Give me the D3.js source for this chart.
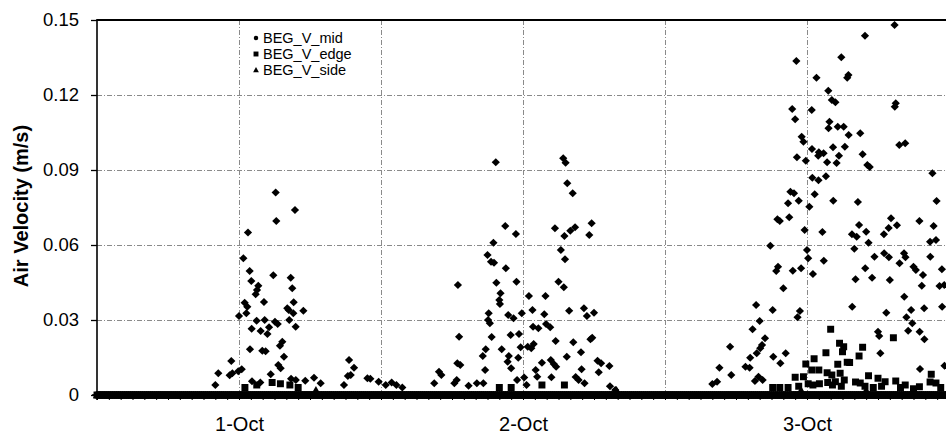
<!DOCTYPE html>
<html>
<head>
<meta charset="utf-8">
<script src="https://cdn.jsdelivr.net/npm/d3@7"></script>
<style>
  body { margin: 0; background: #fff; }
  svg { display: block; font-family: Arial, "Liberation Sans", sans-serif; }
</style>
</head>
<body>
<svg width="946" height="435"></svg>
<script>
// series / axis data
var seriesNames = ["BEG_V_mid", "BEG_V_edge", "BEG_V_side"];
var yTicks = [0, 0.03, 0.06, 0.09, 0.12, 0.15];
var dayLabels = ["1-Oct", "2-Oct", "3-Oct"];

// logger: one reading every 10 min, readings not listed below were 0 m/s
var logStart = new Date(2003, 8, 30, 12), logEnd = new Date(2003, 9, 3, 12), logStepMin = 10;
var oct1 = new Date(2003, 9, 1);

// readings above zero: [hours after 1-Oct 00:00, air velocity m/s]
var midReadings = [
  [-2.0,0.004],[-1.75,0.0087],[-0.79,0.0079],[-0.65,0.0136],[-0.56,0.0087],[-0.06,0.0095],[0,0.0316],[0.23,0.0103],
  [0.37,0.0547],[0.48,0.0369],[0.62,0.0327],[0.7,0.0353],[0.76,0.065],[0.9,0.0496],[0.93,0.0183],[1.04,0.0456],
  [1.07,0.0265],[1.1,0.0055],[1.41,0.0403],[1.49,0.0297],[1.52,0.042],[1.63,0.0437],[1.8,0.005],[1.83,0.0256],
  [1.97,0.0177],[2.11,0.0372],[2.17,0.03],[2.25,0.0175],[2.4,0.0244],[2.54,0.0271],[2.68,0.0083],[2.9,0.0479],
  [3.04,0.0293],[3.1,0.081],[3.15,0.0696],[3.27,0.0284],[3.32,0.012],[3.46,0.0197],[3.52,0.0107],[3.66,0.0213],
  [3.8,0.0153],[4.08,0.0347],[4.2,0.034],[4.25,0.03],[4.37,0.0469],[4.4,0.0065],[4.5,0.0427],[4.59,0.0327],
  [4.62,0.0371],[4.73,0.074],[4.79,0.0273],[4.8,0.006],[5.44,0.0337],[5.6,0.0057],[6.34,0.0069],[6.9,0.0047],
  [8.87,0.004],[9.2,0.0076],[9.3,0.014],[9.44,0.008],[9.72,0.0109],[10.85,0.0067],[11.1,0.0065],[11.8,0.0053],
  [12.4,0.004],[12.9,0.005],[13.3,0.004],[13.8,0.003],
  [16.5,0.0047],[16.9,0.0093],[17.1,0.008],[18.2,0.0047],[18.4,0.006],[18.45,0.0127],[18.5,0.044],[18.6,0.0233],
  [18.7,0.012],[19.4,0.0037],[20.1,0.0047],[20.6,0.0156],[20.65,0.0047],[20.8,0.01],[20.85,0.0183],[21.0,0.056],
  [21.05,0.03],[21.1,0.0327],[21.2,0.0287],[21.3,0.0533],[21.35,0.0232],[21.5,0.0609],[21.55,0.0529],[21.7,0.0931],
  [21.75,0.0449],[22.0,0.038],[22.05,0.0364],[22.1,0.0407],[22.2,0.0183],[22.5,0.0676],[22.55,0.0507],[22.7,0.0133],
  [22.75,0.032],[22.8,0.0156],[22.96,0.024],[23.0,0.0107],[23.2,0.0307],[23.4,0.0644],[23.45,0.0453],[23.5,0.006],
  [23.6,0.0149],[23.66,0.0244],[23.8,0.0191],[23.9,0.0327],[24.1,0.007],[24.3,0.004],[24.4,0.0193],[24.5,0.0396],
  [24.7,0.0187],[24.8,0.034],[24.85,0.0273],[24.9,0.0204],[25.07,0.01],[25.2,0.0073],[25.3,0.0267],[25.6,0.0129],
  [25.8,0.0323],[25.9,0.0396],[25.95,0.0284],[26.3,0.0271],[26.35,0.014],[26.4,0.0071],[26.6,0.0124],[26.7,0.0667],
  [26.76,0.0216],[26.8,0.0113],[27.0,0.0453],[27.2,0.058],[27.4,0.0947],[27.45,0.0431],[27.5,0.0636],[27.55,0.0543],
  [27.6,0.0929],[27.7,0.0153],[27.74,0.0847],[27.9,0.0337],[28.0,0.0657],[28.2,0.0807],[28.25,0.0211],[28.4,0.0671],
  [28.45,0.0072],[28.7,0.006],[28.9,0.0171],[28.95,0.0103],[29.15,0.0347],[29.2,0.0047],[29.4,0.0316],[29.6,0.064],
  [29.7,0.0223],[29.8,0.0687],[29.85,0.0229],[30.0,0.0329],[30.3,0.0137],[30.4,0.0091],[30.6,0.0127],[31.3,0.0116],
  [31.35,0.0035],[31.8,0.002],
  [40.0,0.0044],[40.4,0.0053],[40.6,0.0109],[41.5,0.0193],[41.6,0.008],[42.8,0.0113],[43.15,0.0109],[43.2,0.0149],
  [43.4,0.0263],[43.6,0.0056],[43.7,0.036],[43.75,0.0167],[43.9,0.0073],[44.0,0.0296],[44.05,0.0187],[44.2,0.02],
  [44.25,0.006],[44.45,0.0227],[44.9,0.0597],[45.1,0.034],[45.15,0.0153],[45.4,0.0496],[45.5,0.0703],[45.55,0.0513],
  [45.7,0.0696],[45.75,0.0127],[46.0,0.0427],[46.2,0.0167],[46.4,0.0767],[46.5,0.0711],[46.6,0.0813],[46.75,0.1144],
  [46.8,0.0497],[46.9,0.0807],[47.0,0.1103],[47.1,0.1336],[47.15,0.0951],[47.2,0.0311],[47.3,0.0777],[47.4,0.0336],
  [47.5,0.0507],[47.55,0.1033],[47.7,0.1013],[47.8,0.066],[47.9,0.0937],[48.0,0.058],[48.1,0.0547],[48.2,0.0753],
  [48.4,0.114],[48.42,0.0984],[48.45,0.0869],[48.5,0.0484],[48.65,0.0803],[48.8,0.1269],[48.95,0.0957],[48.97,0.0859],
  [49.0,0.0971],[49.3,0.0652],[49.4,0.0967],[49.42,0.0537],[49.6,0.0875],[49.7,0.0931],[49.8,0.1217],[49.82,0.1067],
  [49.9,0.1093],[50.1,0.118],[50.2,0.0991],[50.22,0.0777],[50.4,0.1171],[50.5,0.0928],[50.6,0.1073],[50.7,0.0957],
  [50.9,0.1351],[51.1,0.1073],[51.2,0.0993],[51.4,0.1269],[51.5,0.128],[51.52,0.104],[51.8,0.0643],[51.82,0.0353],
  [52.0,0.0585],[52.1,0.0463],[52.2,0.0633],[52.3,0.0772],[52.4,0.068],[52.5,0.1047],[52.7,0.0963],[52.9,0.1437],
  [52.92,0.0507],[53.0,0.0653],[53.1,0.092],[53.2,0.0609],[53.3,0.0912],[53.5,0.0469],[53.7,0.0553],[54.0,0.0253],
  [54.1,0.0236],[54.2,0.0167],[54.5,0.0643],[54.52,0.0567],[54.7,0.0329],[54.9,0.0668],[54.92,0.0551],[55.0,0.046],
  [55.1,0.0707],[55.4,0.148],[55.42,0.1153],[55.5,0.1167],[55.6,0.0679],[55.8,0.1],[55.82,0.0527],[56.2,0.0567],
  [56.22,0.0393],[56.3,0.1007],[56.32,0.0551],[56.4,0.0311],[56.55,0.0257],[56.8,0.034],[56.9,0.0287],[57.0,0.0513],
  [57.2,0.05],[57.5,0.0696],[57.52,0.0253],[57.55,0.0104],[57.7,0.0437],[57.8,0.048],[57.9,0.0347],[57.92,0.0223],
  [58.4,0.0613],[58.42,0.0553],[58.6,0.0887],[58.7,0.0676],[58.9,0.062],[58.95,0.0776],[59.2,0.0436],[59.4,0.0503],
  [59.42,0.0353],[59.6,0.044],[59.62,0.0117]
];
var edgeReadings = [
  [0.5,0.003],[1.5,0.004],[2.8,0.005],[3.5,0.0045],[4.3,0.004],[5.0,0.003],[22.0,0.003],[23.0,0.003],
  [25.6,0.004],[27.5,0.004],
  [45.1,0.003],[45.7,0.003],[46.4,0.003],[47.0,0.0071],[47.3,0.0035],[47.7,0.0073],[47.9,0.0124],[48.1,0.0045],
  [48.4,0.01],[48.5,0.004],[48.6,0.0145],[49.0,0.01],[49.05,0.0045],[49.6,0.0169],[49.7,0.0089],[49.75,0.005],
  [50.0,0.0263],[50.1,0.008],[50.15,0.004],[50.4,0.0053],[50.6,0.0123],[50.75,0.0207],[50.8,0.0087],[50.9,0.0035],
  [51.0,0.0173],[51.1,0.0193],[51.15,0.006],[51.4,0.0131],[51.6,0.013],[52.1,0.0052],[52.4,0.0156],[52.5,0.0048],
  [52.7,0.0191],[52.9,0.0035],[53.2,0.0077],[53.6,0.003],[54.0,0.0067],[54.3,0.0035],[54.6,0.0053],[55.3,0.0229],
  [55.5,0.0056],[55.9,0.003],[56.3,0.004],[57.0,0.0025],[57.5,0.0033],[58.4,0.0052],[58.5,0.0083],[58.9,0.0048],
  [59.3,0.003]
];
var sideReadings = [
  [6.5,0.002],[31.9,0.002],[47.5,0.002],[53.0,0.002]
];

function buildSeries(readings) {
  var pts = d3.timeMinute.every(logStepMin).range(logStart, logEnd).map(function(t) { return {date: t, v: 0}; });
  readings.forEach(function(r) {
    pts.push({date: new Date(oct1.getTime() + r[0] * 3600e3), v: r[1]});
  });
  return pts;
}

var svg = d3.select("svg"),
    plotL = 97, plotR = 949, plotT = 20, plotB = 395;

var x = d3.scaleTime().domain([logStart, logEnd]).range([plotL, plotR]);
var y = d3.scaleLinear().domain([0, 0.15]).range([plotB, plotT]);

// grid
var grid = svg.append("g")
    .attr("stroke", "#8a8a8a")
    .attr("stroke-width", 1)
    .attr("stroke-dasharray", "5,2,1,2");
grid.selectAll(".h").data(yTicks.slice(1, -1)).enter().append("line")
    .attr("x1", plotL).attr("x2", 946)
    .attr("y1", function(d) { return Math.round(y(d)) + 0.5; }).attr("y2", function(d) { return Math.round(y(d)) + 0.5; });
grid.selectAll(".v").data(d3.timeHour.every(12).range(oct1, logEnd)).enter().append("line")
    .attr("x1", function(d) { return Math.round(x(d)) + 0.5; }).attr("x2", function(d) { return Math.round(x(d)) + 0.5; })
    .attr("y1", plotT).attr("y2", plotB);

// y axis
var yAxis = svg.append("g")
    .attr("transform", "translate(" + plotL + ",0)")
    .call(d3.axisLeft(y).tickValues(yTicks).tickSize(6).tickPadding(12)
      .tickFormat(function(d) { return d === 0 ? "0" : d3.format(".2f")(d); }));
yAxis.select(".domain").remove();
yAxis.selectAll("line").attr("stroke", "#000").attr("stroke-width", 1.3);
yAxis.selectAll("text").attr("font-size", "18.5px").attr("fill", "#000");

// x axis: hourly minor ticks + day labels
var xMinor = svg.append("g")
    .attr("transform", "translate(0," + plotB + ")")
    .call(d3.axisBottom(x).ticks(d3.timeHour.every(1)).tickSize(5).tickFormat(""));
xMinor.select(".domain").remove();
xMinor.selectAll("line").attr("stroke", "#000");

var dayTicks = dayLabels.map(function(d, i) { return d3.timeDay.offset(oct1, i); });
var xLabels = svg.append("g")
    .attr("transform", "translate(0," + plotB + ")")
    .call(d3.axisBottom(x).tickValues(dayTicks).tickSize(0).tickPadding(22)
      .tickFormat(function(d, i) { return dayLabels[i]; }));
xLabels.select(".domain").remove();
xLabels.selectAll("text").attr("font-size", "20px").attr("fill", "#000");

// frame lines
svg.append("line").attr("x1", plotL).attr("x2", 946).attr("y1", plotT).attr("y2", plotT)
    .attr("stroke", "#000").attr("stroke-width", 2);
svg.append("line").attr("x1", plotL).attr("x2", plotL).attr("y1", plotT - 1).attr("y2", plotB + 5)
    .attr("stroke", "#000").attr("stroke-width", 1.6);
svg.append("line").attr("x1", plotL - 5).attr("x2", 946).attr("y1", plotB).attr("y2", plotB)
    .attr("stroke", "#000").attr("stroke-width", 1.6);

// markers
var shapes = [
  function(r) { return "M0," + (-r) + "L" + r + ",0L0," + r + "L" + (-r) + ",0Z"; },
  function(r) { var s = r * 0.85; return "M" + (-s) + "," + (-s) + "H" + s + "V" + s + "H" + (-s) + "Z"; },
  function(r) { return "M0," + (-r) + "L" + r + "," + (r * 0.8) + "H" + (-r) + "Z"; }
];
var allSeries = [midReadings, edgeReadings, sideReadings].map(buildSeries);

allSeries.forEach(function(pts, si) {
  svg.append("g")
    .attr("class", "series-" + si)
    .selectAll("path")
    .data(pts)
    .enter().append("path")
    .attr("transform", function(d) { return "translate(" + x(d.date) + "," + y(d.v) + ")"; })
    .attr("d", shapes[si](4.1))
    .attr("fill", "#000");
});

// legend
var legend = svg.append("g")
    .attr("transform", "translate(256,38)")
    .selectAll("g")
    .data(seriesNames)
    .enter().append("g")
    .attr("transform", function(d, i) { return "translate(0," + i * 16 + ")"; });
legend.append("path")
    .attr("d", function(d, i) { return i === 0 ? d3.symbol().type(d3.symbolCircle).size(16)() : shapes[i](2.9); })
    .attr("fill", "#000");
legend.append("text")
    .attr("x", 7)
    .attr("dy", "0.36em")
    .attr("font-size", "14.5px")
    .text(function(d) { return d; });

// y axis title
svg.append("text")
    .attr("transform", "translate(28,206)rotate(-90)")
    .attr("text-anchor", "middle")
    .attr("font-size", "20px")
    .attr("font-weight", "bold")
    .text("Air Velocity (m/s)");
</script>
</body>
</html>
